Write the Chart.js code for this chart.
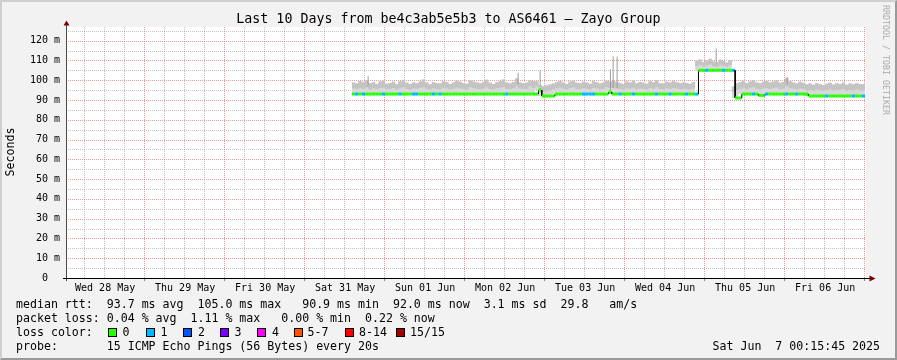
<!DOCTYPE html>
<html>
<head>
<meta charset="utf-8">
<script src="https://cdn.jsdelivr.net/npm/chart.js@4.4.0/dist/chart.umd.min.js"></script>
<style>
  html, body { margin: 0; padding: 0; background: #f2f2f2; }
  #wrap { position: relative; width: 897px; height: 360px; overflow: hidden;
          font-family: "DejaVu Sans Mono", monospace; color: #000; }
  #chart { position: absolute; left: 0; top: 0; }
  .frame { position: absolute; left: 0; top: 0; width: 897px; height: 360px; box-sizing: border-box;
           border-top: 2px solid #cfcfcf; border-left: 2px solid #cfcfcf;
           border-right: 2px solid #9a9a9a; border-bottom: 2px solid #9a9a9a; pointer-events: none; }
  .t { position: absolute; white-space: pre; font-size: 11.6px; line-height: 14px; }
  .title { position: absolute; left: 0; top: 11px; width: 897px; text-align: center;
           font-size: 13.3px; line-height: 16px; white-space: pre; }
  .ylab { position: absolute; left: -30px; top: 145px; width: 80px; height: 14px; text-align: center;
          font-size: 11.6px; line-height: 14px; transform: rotate(-90deg); }
  .side { position: absolute; left: 806px; top: 54px; width: 160px; height: 12px; text-align: center;
          font-size: 8.3px; line-height: 12px; color: #aaaaaa; transform: rotate(90deg); white-space: pre; }
  .box { position: absolute; top: 328px; width: 7px; height: 7px; border: 1px solid #000; }
</style>
</head>
<body>
<div id="wrap">
  <canvas id="chart" width="897" height="360"></canvas>
  <div class="title" id="title"></div>
  <div class="ylab">Seconds</div>
  <div class="side">RRDTOOL / TOBI OETIKER</div>
  <div id="legend"></div>
  <div class="frame"></div>
</div>
<script>
// x values are hours after Wed 28 May 00:00
const titleText = 'Last 10 Days from be4c3ab5e5b3 to AS6461 \u2014 Zayo Group';
const dayLabels = ['Wed 28 May', 'Thu 29 May', 'Fri 30 May', 'Sat 31 May', 'Sun 01 Jun',
                   'Mon 02 Jun', 'Tue 03 Jun', 'Wed 04 Jun', 'Thu 05 Jun', 'Fri 06 Jun'];
const xStart = 0.2625, xEnd = 240.2625;
const firstHour = 86;

const medianRtt = [
  93, 93, 93, 93, 93, 93, 93, 93, 93, 93, 93, 93, 93, 93,
  93, 93, 93, 93, 93, 93, 93, 93, 93, 93, 93, 93, 93, 93,
  93, 93, 93, 93, 93, 93, 93, 93, 93, 93, 93, 93, 93, 93,
  93, 93, 93, 93, 93, 93, 93, 93, 93, 93, 93, 93, 93, 93,
  95, 92, 92, 92, 92,
  93, 93, 93, 93, 93, 93, 93, 93, 93, 93, 93, 93, 93, 93, 93, 93,
  94,
  93, 93, 93, 93, 93, 93, 93, 93, 93, 93, 93, 93, 93,
  93, 93, 93, 93, 93, 93, 93, 93, 93, 93, 93, 93, 93,
  105, 105, 105, 105, 105, 105, 105, 105, 105, 105, 105,
  91, 91,
  93, 93, 93, 93, 93,
  92.3, 92.3,
  93, 93, 93, 93, 93, 93, 93, 93, 93, 93, 93, 93, 93,
  92, 92, 92, 92, 92, 92, 92, 92, 92, 92, 92, 92, 92, 92, 92, 92, 92
];

const smokeOuter = [
  98.0, 98.8, 98.3, 99.6, 99.0, 100.0, 98.4, 99.0, 98.1, 99.3,
  99.8, 98.2, 98.6, 99.2, 97.9, 99.5, 100.1, 98.7, 98.1, 98.9,
  98.4, 99.3, 100.4, 98.8, 98.0, 99.0, 98.6, 98.3, 99.5, 99.1,
  98.1, 98.8, 99.7, 99.2, 98.6, 98.2, 100.0, 99.4, 98.9, 98.4,
  99.1, 100.2, 98.7, 98.1, 99.0, 99.5, 100.3, 98.8, 98.3, 99.1,
  100.8, 98.9, 98.4, 98.7, 99.8, 99.6,
  99.5, 97.4, 97.0, 97.3, 97.8,
  98.3, 99.0, 99.6, 98.8, 98.1, 99.4, 99.9, 98.7, 98.4, 99.2,
  98.9, 98.2, 99.5, 99.0, 98.3, 98.8, 99.7, 99.4, 99.6, 99.1,
  98.6, 98.1, 99.3, 98.9, 99.8, 98.4, 99.1, 98.7, 98.2, 99.5,
  99.0, 100.1, 98.6, 98.3, 99.2, 98.8, 99.6, 99.0, 98.4, 98.9,
  98.6, 98.2, 99.1,
  109.8, 110.5, 109.1, 110.0, 110.8, 109.5, 109.2, 110.3, 109.7, 109.0, 110.2,
  96.8, 98.5,
  99.0, 99.8, 98.6, 99.3, 100.1, 98.9, 98.4, 99.2, 99.6, 98.8,
  99.4, 99.9, 98.7, 99.1, 101.0, 99.5, 98.9, 98.3, 99.2, 98.7,
  97.9, 98.3, 97.7, 98.5, 98.0, 97.6, 98.2, 98.7, 97.8, 98.4,
  98.1, 98.9, 97.7, 98.3, 98.0, 98.5, 97.9
];

const smokeInner = [
  95.2, 95.8, 95.4, 96.1, 95.6, 96.3, 95.3, 95.9, 95.5, 96.0,
  96.2, 95.4, 95.7, 96.0, 95.3, 95.9, 96.4, 95.6, 95.2, 95.8,
  95.5, 96.1, 96.5, 95.7, 95.3, 95.9, 95.6, 95.4, 96.2, 95.8,
  95.3, 95.7, 96.3, 95.9, 95.5, 95.2, 96.4, 96.0, 95.7, 95.4,
  95.8, 96.5, 95.6, 95.3, 95.9, 96.1, 96.6, 95.7, 95.4, 95.9,
  96.8, 95.8, 95.5, 95.6, 96.9, 96.0,
  97.0, 94.5, 94.2, 94.4, 94.8,
  95.4, 95.9, 96.2, 95.7, 95.3, 96.0, 96.4, 95.6, 95.4, 95.9,
  95.7, 95.3, 96.1, 95.8, 95.4, 95.6, 96.5, 96.0, 96.3, 95.8,
  95.5, 95.2, 95.9, 95.7, 96.2, 95.4, 95.8, 95.6, 95.3, 96.0,
  95.7, 96.4, 95.5, 95.3, 95.9, 95.6, 96.1, 95.8, 95.4, 95.7,
  95.5, 95.3, 95.8,
  107.2, 107.8, 106.9, 107.5, 108.0, 107.1, 106.8, 107.6, 107.3, 106.9, 107.5,
  94.0, 95.0,
  95.6, 96.2, 95.4, 95.9, 96.4, 95.7, 95.3, 95.8, 96.1, 95.6,
  95.9, 96.3, 95.5, 95.8, 96.9, 96.0, 95.7, 95.3, 95.8, 95.5,
  94.8, 95.1, 94.7, 95.3, 94.9, 94.6, 95.0, 95.4, 94.8, 95.2,
  95.0, 95.5, 94.7, 95.1, 94.9, 95.3, 94.8
];

// hours where 1 of 15 pings was lost
const lossOneHours = [87, 89, 95, 100, 104, 105, 110, 112, 132, 155, 156, 157, 158, 166,
                      170, 177, 181, 186, 189, 192, 197, 200, 206, 210, 216, 219, 228, 236, 239];

// single tall pings
const spikeHours = [90.9, 135.9, 142.5, 163.6, 164.4, 165.6, 195.3, 216.6];
const spikeLow   = [97, 98, 97, 95, 96, 96, 109, 98];
const spikeHigh  = [102, 103.7, 105, 105.6, 112, 112, 116, 101.7];

const lossColors = ['#26ff00', '#00b8ff', '#0059ff', '#7e00ff', '#ff00ff', '#ff5500', '#ff0000', '#a10000'];
const lossLabels = ['0', '1', '2', '3', '4', '5-7', '8-14', '15/15'];
const lossBoxX   = [108, 146, 183, 220, 257, 294, 345, 396];
const lossTextX  = [122.5, 160.5, 198, 234.5, 272, 307.5, 359, 410];

const statLines = [
  'median rtt:  93.7 ms avg  105.0 ms max   90.9 ms min  92.0 ms now  3.1 ms sd  29.8   am/s',
  'packet loss: 0.04 % avg  1.11 % max   0.00 % min  0.22 % now',
  'loss color:',
  'probe:       15 ICMP Echo Pings (56 Bytes) every 20s'
];
const stampText = 'Sat Jun  7 00:15:45 2025';

// ---- text
document.getElementById('title').textContent = titleText;
const legend = document.getElementById('legend');
statLines.forEach((s, i) => {
  const d = document.createElement('div');
  d.className = 't';
  d.style.left = '16px';
  d.style.top = (297 + i * 14) + 'px';
  d.textContent = s;
  legend.appendChild(d);
});
lossLabels.forEach((l, i) => {
  const b = document.createElement('div');
  b.className = 'box';
  b.style.left = lossBoxX[i] + 'px';
  b.style.background = lossColors[i];
  legend.appendChild(b);
  const t = document.createElement('div');
  t.className = 't';
  t.style.left = lossTextX[i] + 'px';
  t.style.top = '325px';
  t.textContent = l;
  legend.appendChild(t);
});
const stamp = document.createElement('div');
stamp.className = 't';
stamp.style.left = '712.5px';
stamp.style.top = '339px';
stamp.textContent = stampText;
legend.appendChild(stamp);

// ---- data for the library
const stepPts = vals => vals.map((v, i) => ({ x: firstHour + i, y: v }))
  .concat([{ x: firstHour + vals.length, y: vals[vals.length - 1] }]);

const medianPts = [];
medianRtt.forEach((v, i) => {
  medianPts.push({ x: firstHour + i, y: v });
  medianPts.push({ x: firstHour + i + 1, y: v });
});

const spikePts = [];
spikeHours.forEach((h, i) => {
  spikePts.push({ x: h, y: spikeLow[i] });
  spikePts.push({ x: h, y: spikeHigh[i] });
  spikePts.push({ x: h, y: null });
});

const gridGray = 'rgba(143,143,143,0.55)';
const gridRed = 'rgba(233,96,96,0.65)';
const monoFont = { family: 'DejaVu Sans Mono', size: 10 };

// dotted rrdtool-style grid, drawn through the scales
const frameBits = {
  id: 'frameBits',
  beforeDraw(chart) {
    const { ctx, chartArea: a } = chart;
    ctx.save();
    ctx.fillStyle = '#ffffff';
    ctx.fillRect(a.left, a.top, a.right - a.left, a.bottom - a.top);
    ctx.restore();
  },
  beforeDatasetsDraw(chart) {
    const { ctx, chartArea: a, scales: { x, y } } = chart;
    ctx.save();
    ctx.lineWidth = 1;
    ctx.setLineDash([1, 1]);
    x.ticks.forEach(t => {
      const px = Math.round(x.getPixelForValue(t.value)) - 0.5;
      ctx.strokeStyle = t.value % 24 === 0 ? gridRed : gridGray;
      ctx.beginPath();
      ctx.moveTo(px, a.top);
      ctx.lineTo(px, a.bottom);
      ctx.stroke();
    });
    y.ticks.forEach(t => {
      if (t.value === 0) return;
      const py = Math.round(y.getPixelForValue(t.value)) + 0.5;
      ctx.strokeStyle = t.value % 10 === 0 ? gridRed : gridGray;
      ctx.beginPath();
      ctx.moveTo(a.left, py);
      ctx.lineTo(a.right, py);
      ctx.stroke();
    });
    ctx.restore();
  },
  afterDraw(chart) {
    const { ctx, chartArea: a, scales: { x } } = chart;
    ctx.save();
    ctx.lineWidth = 1;
    ctx.strokeStyle = '#8a8a8a';
    x.ticks.forEach(t => {
      if (t.value % 24 !== 0) return;
      const px = Math.round(x.getPixelForValue(t.value)) - 0.5;
      ctx.beginPath();
      ctx.moveTo(px, a.bottom);
      ctx.lineTo(px, a.bottom + 3);
      ctx.stroke();
    });
    ctx.strokeStyle = '#4a4a4a';
    ctx.beginPath();
    ctx.moveTo(a.left + 0.5, a.top - 2);
    ctx.lineTo(a.left + 0.5, a.bottom + 3);
    ctx.stroke();
    ctx.strokeStyle = '#000000';
    ctx.beginPath();
    ctx.moveTo(a.left - 3, a.bottom + 0.5);
    ctx.lineTo(a.right + 4, a.bottom + 0.5);
    ctx.stroke();
    ctx.fillStyle = '#7f0000';
    ctx.beginPath();
    ctx.moveTo(a.left + 0.5, a.top - 6.5);
    ctx.lineTo(a.left - 2.5, a.top - 1.5);
    ctx.lineTo(a.left + 3.5, a.top - 1.5);
    ctx.closePath();
    ctx.fill();
    ctx.beginPath();
    ctx.moveTo(a.right + 9.5, a.bottom + 0.5);
    ctx.lineTo(a.right + 3.5, a.bottom - 2.5);
    ctx.lineTo(a.right + 3.5, a.bottom + 3.5);
    ctx.closePath();
    ctx.fill();
    ctx.restore();
  }
};

new Chart(document.getElementById('chart').getContext('2d'), {
  type: 'line',
  data: {
    datasets: [
      {
        label: 'median',
        data: medianPts,
        borderWidth: 3,
        borderColor: lossColors[0],
        pointRadius: 0,
        fill: false,
        segment: {
          borderColor: c => c.p0.parsed.x === c.p1.parsed.x ? '#000000'
            : (lossOneHours.includes(Math.round(c.p0.parsed.x)) ? lossColors[1] : lossColors[0]),
          borderWidth: c => c.p0.parsed.x === c.p1.parsed.x ? 1 : 3
        }
      },
      {
        label: 'spikes',
        data: spikePts,
        borderWidth: 1,
        borderColor: '#9c9c9c',
        pointRadius: 0,
        spanGaps: false,
        fill: false
      },
      {
        label: 'smoke inner',
        data: stepPts(smokeInner),
        stepped: 'after',
        borderWidth: 0,
        pointRadius: 0,
        backgroundColor: '#c4c4c4',
        fill: 3
      },
      {
        label: 'smoke outer',
        data: stepPts(smokeOuter),
        stepped: 'after',
        borderWidth: 0,
        pointRadius: 0,
        backgroundColor: '#d8d8d8',
        fill: 4
      },
      {
        label: 'base',
        data: stepPts(medianRtt),
        stepped: 'after',
        borderWidth: 0,
        pointRadius: 0,
        fill: false
      }
    ]
  },
  options: {
    responsive: false,
    animation: false,
    layout: { padding: { left: 0, top: 27, right: 31, bottom: 0 } },
    plugins: { legend: { display: false }, tooltip: { enabled: false } },
    scales: {
      x: {
        type: 'linear',
        min: xStart,
        max: xEnd,
        afterFit: s => { s.height = 82; },
        afterBuildTicks: s => {
          const t = [];
          for (let h = 6; h <= 240; h += 6) t.push({ value: h });
          s.ticks = t;
        },
        grid: { display: false, drawTicks: false },
        border: { display: false },
        ticks: {
          autoSkip: false,
          maxRotation: 0,
          padding: 4,
          color: '#000000',
          font: monoFont,
          callback: v => (v - 12) % 24 === 0 ? dayLabels[(v - 12) / 24] : ''
        }
      },
      y: {
        type: 'linear',
        min: 0,
        max: 126.9,
        afterFit: s => { s.width = 66; },
        afterBuildTicks: s => {
          const t = [];
          for (let v = 0; v <= 125; v += 5) t.push({ value: v });
          s.ticks = t;
        },
        grid: { display: false, drawTicks: false },
        border: { display: false },
        ticks: {
          autoSkip: false,
          padding: 6,
          color: '#000000',
          font: monoFont,
          callback: v => v % 10 !== 0 ? '' : (v === 0 ? '0  ' : v + ' m')
        }
      }
    }
  },
  plugins: [frameBits]
});
</script>
</body>
</html>
